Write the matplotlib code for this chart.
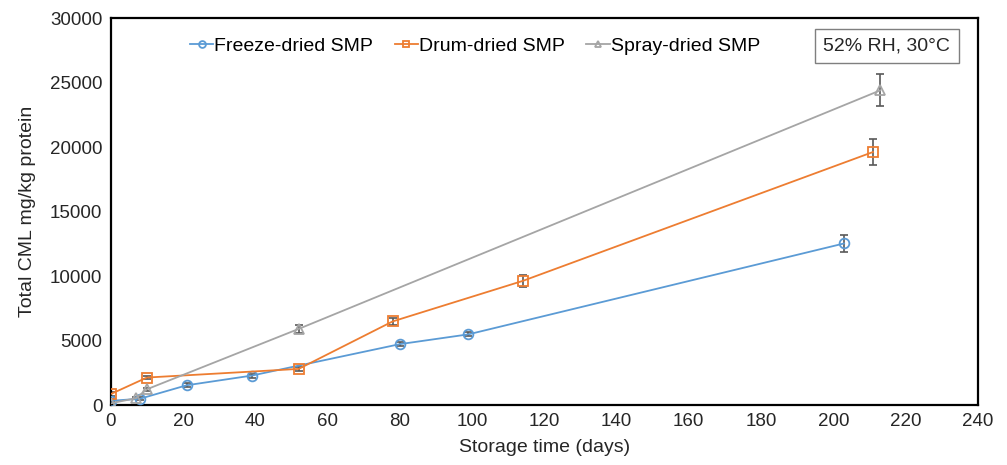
import numpy as np
import matplotlib.pyplot as plt

plt.rcParams['font.family'] = ['Liberation Sans', 'DejaVu Sans']

# freeze-dried
fd_days = [0, 8, 21, 39, 80, 99, 203]
fd_cml = [330, 480, 1530, 2280, 4720, 5480, 12530]
fd_err = [120, 120, 150, 150, 150, 150, 650]
# drum-dried
dd_days = [0, 10, 52, 78, 114, 211]
dd_cml = [850, 2130, 2800, 6480, 9620, 19620]
dd_err = [150, 150, 180, 250, 450, 1000]
# spray-dried
sd_days = [0, 7, 10, 52, 213]
sd_cml = [130, 530, 1220, 5900, 24400]
sd_err = [80, 100, 120, 300, 1250]

fig, ax = plt.subplots(figsize=(10.07, 4.65), dpi=100)
fig.subplots_adjust(left=0.110, right=0.971, top=0.961, bottom=0.129)

series = [
    ("Freeze-dried SMP", fd_days, fd_cml, fd_err, "#5B9BD5", "o"),
    ("Drum-dried SMP", dd_days, dd_cml, dd_err, "#ED7D31", "s"),
    ("Spray-dried SMP", sd_days, sd_cml, sd_err, "#A5A5A5", "^"),
]
for name, x, y, e, c, m in series:
    ax.errorbar(x, y, yerr=e, fmt="none", ecolor="#595959", elinewidth=1.2,
                capsize=3, capthick=1.2, zorder=2)
    ax.plot(x, y, color=c, marker=m, markerfacecolor="none", markeredgecolor=c,
            markersize=7, markeredgewidth=1.3, linewidth=1.3, label=name, zorder=3)

ax.set_xlim(0, 240)
ax.set_ylim(0, 30000)
ax.set_xticks(np.arange(0, 241, 20))
ax.set_yticks(np.arange(0, 30001, 5000))
ax.tick_params(labelsize=13.5, length=0, pad=6, labelcolor="#262626")
for s in ax.spines.values():
    s.set_color("black")
    s.set_linewidth(1.6)

ax.set_xlabel("Storage time (days)", fontsize=14, color="#262626", labelpad=6)
ax.set_ylabel("Total CML mg/kg protein", fontsize=14, color="#262626", labelpad=10)

ax.legend(loc="center", bbox_to_anchor=(0.42, 0.928), ncol=3, frameon=False,
          fontsize=14, handlelength=1.2, handletextpad=0.05, columnspacing=1.1,
          markerscale=0.7)

ax.text(0.895, 0.928, "52% RH, 30°C", transform=ax.transAxes, fontsize=14,
        ha="center", va="center", color="#262626",
        bbox=dict(boxstyle="square,pad=0.45", facecolor="white", edgecolor="#7f7f7f", linewidth=1))

fig.savefig("out.png")
